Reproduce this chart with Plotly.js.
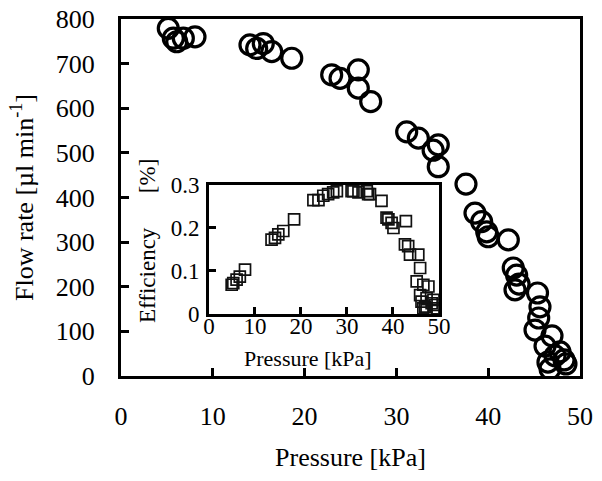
<!DOCTYPE html>
<html>
<head>
<meta charset="utf-8">
<script src="https://cdn.plot.ly/plotly-3.0.1.min.js"></script>
<style>html,body{margin:0;padding:0;background:#fff}#chart{width:602px;height:481px}</style>
</head>
<body>
<div id="chart"></div>
<script>
// Main plot: flow rate vs pressure
const pressure = [5.15,5.7,6.07,6.79,8.06,14.05,14.78,15.5,16.42,18.6,22.95,23.86,25.85,25.85,27.2,31.12,32.39,34.0,34.56,34.56,37.58,38.56,39.29,39.84,40.0,42.19,42.73,43.1,43.36,42.92,45.37,45.64,45.5,45.1,46.95,46.19,47.82,47.28,46.51,48.26,46.73,48.47];
const flowRate = [779,757,749,757,760,742,734,745,727,712,675,667,686,645,615,547,533,506,518,469,430,365,346,323,312,305,242,226,206,193,186,155,130,103,90,67,54,45,31,36,16,27];

// Inset: efficiency vs pressure
const effPressure = [4.93,5.28,6.0,6.7,7.83,13.6,14.35,15.07,16.15,18.5,22.7,23.8,24.85,25.9,27.0,27.8,31.0,31.4,32.5,34.3,34.6,35.0,37.5,38.6,39.0,39.7,40.1,42.8,42.6,43.3,43.7,45.5,45.9,45.15,46.6,47.7,45.9,47.3,48.4,48.8,46.2,47.0,49.1,46.6,48.8,47.3,49.5];
const efficiency = [0.068,0.072,0.080,0.087,0.103,0.173,0.177,0.185,0.193,0.220,0.265,0.265,0.275,0.279,0.283,0.286,0.286,0.286,0.283,0.286,0.279,0.279,0.263,0.224,0.220,0.212,0.200,0.216,0.162,0.158,0.138,0.138,0.107,0.076,0.068,0.064,0.044,0.037,0.025,0.033,0.029,0.017,0.021,0.013,0.009,0.009,0.013];

const xTicks = [0,10,20,30,40,50];
const yTicks = [0,100,200,300,400,500,600,700,800];
const insetYTicks = [0,0.1,0.2,0.3];
const insetYLabels = ['0','0.1','0.2','0.3'];

const FONT = 'Liberation Serif, Times New Roman, serif';

const traces = [
  {x: pressure, y: flowRate, type: 'scatter', mode: 'markers',
   marker: {symbol: 'circle-open', size: 20, color: '#000', line: {width: 3.2, color: '#000'}},
   xaxis: 'x', yaxis: 'y', hoverinfo: 'x+y'},
  {x: effPressure, y: efficiency, type: 'scatter', mode: 'markers',
   marker: {symbol: 'square-open', size: 11, color: '#111', line: {width: 1.7, color: '#111'}},
   xaxis: 'x2', yaxis: 'y2', hoverinfo: 'x+y'}
];

const layout = {
  width: 602, height: 481,
  margin: {l: 121, r: 22, t: 19, b: 105},
  paper_bgcolor: '#fff', plot_bgcolor: 'rgba(0,0,0,0)',
  showlegend: false,
  font: {family: FONT, color: '#000', size: 26},
  xaxis: {
    range: [0, 50], tickvals: xTicks, ticks: 'inside', ticklen: 8, tickwidth: 3, tickcolor: '#000',
    showline: true, linewidth: 3, linecolor: '#000', mirror: true, showgrid: false, zeroline: false,
    tickfont: {family: FONT, size: 26}, ticklabelstandoff: 15,
    title: {text: 'Pressure [kPa]', font: {family: FONT, size: 26}, standoff: 18},
    domain: [0, 1]
  },
  yaxis: {
    range: [0, 800], tickvals: yTicks, ticks: 'inside', ticklen: 8, tickwidth: 3, tickcolor: '#000',
    showline: true, linewidth: 3, linecolor: '#000', mirror: true, showgrid: false, zeroline: false,
    tickfont: {family: FONT, size: 26}, ticklabelstandoff: 18,
    title: {text: 'Flow rate [µl min<sup>-1</sup>]', font: {family: FONT, size: 26}, standoff: 15},
    domain: [0, 1]
  },
  xaxis2: {
    anchor: 'y2', domain: [0.1917, 0.6928],
    range: [0, 50], tickvals: xTicks, ticks: 'inside', ticklen: 7, tickwidth: 3, tickcolor: '#000',
    showline: true, linewidth: 3, linecolor: '#000', mirror: true, showgrid: false, zeroline: false,
    tickfont: {family: FONT, size: 23}, ticklabelstandoff: -11
  },
  yaxis2: {
    anchor: 'x2', domain: [0.1737, 0.535],
    range: [0, 0.3], tickvals: insetYTicks, ticktext: insetYLabels,
    ticks: 'inside', ticklen: 7, tickwidth: 3, tickcolor: '#000',
    showline: true, linewidth: 3, linecolor: '#000', mirror: true, showgrid: false, zeroline: false,
    tickfont: {family: FONT, size: 23}, ticklabelstandoff: 2
  },
  annotations: [
    {text: 'Pressure [kPa]', xref: 'paper', yref: 'paper', x: (308 - 121) / 459, y: (376 - 358) / 357,
     xanchor: 'center', yanchor: 'middle', showarrow: false, font: {family: FONT, size: 22, color: '#000'}},
    {text: 'Efficiency\u00a0\u00a0\u00a0\u00a0\u00a0\u00a0[%]', xref: 'paper', yref: 'paper', x: (147 - 121) / 459, y: (376 - 241) / 357,
     xanchor: 'center', yanchor: 'middle', textangle: -90, showarrow: false, font: {family: FONT, size: 23, color: '#000'}}
  ],
  shapes: [
    {type: 'rect', xref: 'x2 domain', yref: 'y2 domain', x0: 0, x1: 1, y0: 0, y1: 1,
     fillcolor: '#fff', line: {width: 0}, layer: 'below'}
  ]
};

Plotly.newPlot('chart', traces, layout, {displayModeBar: false, staticPlot: true});
</script>
</body>
</html>
